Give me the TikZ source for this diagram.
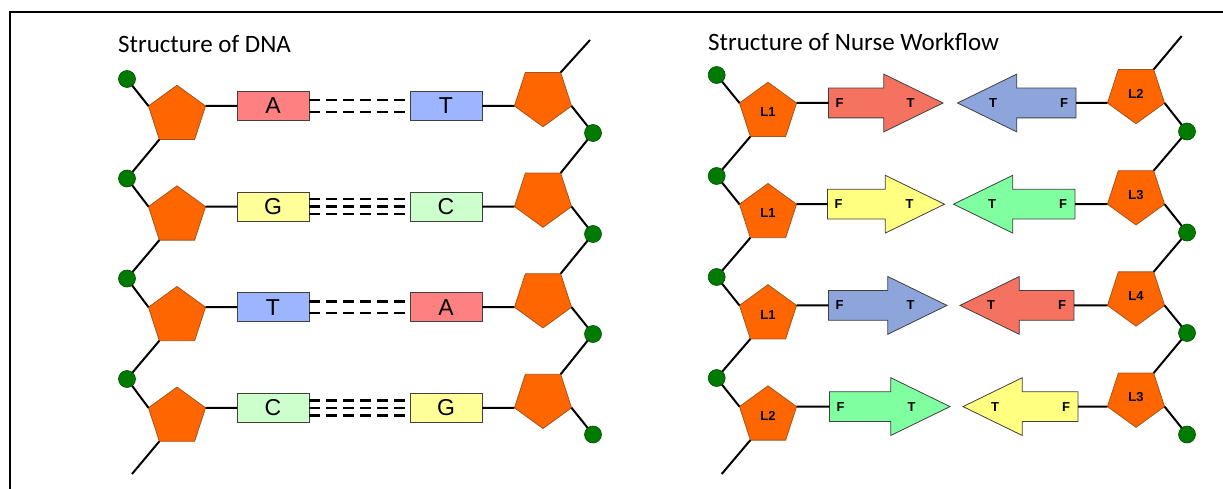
\documentclass[tikz,border=0pt]{standalone}
\usepackage{fontspec}
\usetikzlibrary{shapes.geometric,shapes.arrows}
\newfontfamily\titlefont{Carlito}
\newfontfamily\arialfont{Liberation Sans}

\definecolor{pentfill}{HTML}{FF6600}
\definecolor{pentedge}{HTML}{A4541C}
\definecolor{phosfill}{HTML}{007A00}
\definecolor{phosedge}{HTML}{004C00}
\definecolor{edgegray}{HTML}{404040}
\definecolor{cA}{HTML}{FF8080}
\definecolor{cT}{HTML}{9DB5FF}
\definecolor{cG}{HTML}{FFFF99}
\definecolor{cC}{HTML}{CCFFCC}
\definecolor{fRed}{HTML}{F4725F}
\definecolor{fBlue}{HTML}{8EA5DB}
\definecolor{fYellow}{HTML}{FFFF80}
\definecolor{fGreen}{HTML}{80FFA0}

\tikzset{
  conn/.style={line width=2pt, black},
  frameline/.style={line width=2pt, black},
  pentup/.style={regular polygon, regular polygon sides=5, minimum size=60pt,
    inner sep=0pt, outer sep=0pt, fill=pentfill, draw=pentedge, line width=0.8pt,
    font=\arialfont\bfseries\fontsize{13}{13}\selectfont},
  pentdown/.style={pentup, shape border rotate=180},
  phos/.style={circle, minimum size=17pt, inner sep=0pt, outer sep=0pt,
    fill=phosfill, draw=phosedge, line width=0.6pt},
  basebox/.style={rectangle, minimum width=72pt, minimum height=29pt,
    inner sep=0pt, outer sep=0pt, draw=edgegray, line width=1pt,
    font=\arialfont\fontsize{23}{23}\selectfont},
  hbond/.style={line width=2.4pt, black, dash pattern=on 11pt off 6pt},
  flowR/.style={single arrow, single arrow head extend=14pt, single arrow tip angle=52,
    inner xsep=0pt, inner ysep=14.5pt, outer sep=0pt, draw=edgegray, line width=0.8pt,
    anchor=tail},
  flowL/.style={flowR, shape border rotate=180},
  lab/.style={inner sep=0pt, font=\arialfont\bfseries\fontsize{13}{13}\selectfont},
  title/.style={inner sep=0pt, anchor=base west, font=\titlefont\fontsize{25}{25}\selectfont}
}

\begin{document}
\begin{tikzpicture}[x=1pt, y=-1pt]
\useasboundingbox (0,0) rectangle (1223,489);

% outer frame
\coordinate (frameTR) at (1223,12);
\coordinate (frameTL) at (10,12);
\coordinate (frameBL) at (10,489);
\draw[frameline] (frameTR) -- (frameTL) -- (frameBL);

% titles
\node[title] (dnatitle) at (118,53) {Structure of DNA};
\node[title] (nursetitle) at (708,51) {Structure of Nurse Workflow};

% ---------------- DNA ----------------
% sugars, bases and sugar-base bonds
\foreach \i/\y/\l/\lc/\r/\rc in {1/106/A/cA/T/cT, 2/206.6/G/cG/C/cC, 3/307.2/T/cT/A/cA, 4/407.8/C/cC/G/cG} {
  \node[pentup] (dl\i) at (177, \y+9.27) {};
  \node[pentdown] (dr\i) at (543, \y-9.27) {};
  \node[basebox, fill=\lc] (bl\i) at (273, \y) {\l};
  \node[basebox, fill=\rc] (br\i) at (446, \y) {\r};
  \draw[conn] (dl\i.corner 5) -- (bl\i.west);
  \draw[conn] (br\i.east) -- (dr\i.corner 5);
}
% hydrogen bonds: two for A-T, three for G-C
\foreach \i in {1,3} \foreach \o in {-5.8,5.8}
  \draw[hbond] ([yshift=\o pt]bl\i.east) -- ([yshift=\o pt]br\i.west);
\foreach \i in {2,4} \foreach \o in {-7.5,0,7.5}
  \draw[hbond] ([yshift=\o pt]bl\i.east) -- ([yshift=\o pt]br\i.west);

% phosphates
\foreach \i/\y in {1/79, 2/178.5, 3/278.5, 4/379}
  \node[phos] (pl\i) at (127, \y) {};
\foreach \i/\y in {1/133, 2/234, 3/334, 4/434.5}
  \node[phos] (pr\i) at (593, \y) {};
\coordinate (dlend) at (132,474);
\coordinate (drend) at (590,40);

% left backbone
\foreach \i in {1,...,4} \draw[conn] (pl\i) -- (dl\i.corner 2);
\foreach \i/\j in {1/2, 2/3, 3/4} \draw[conn] (dl\i.corner 3) -- (pl\j);
\draw[conn] (dl4.corner 3) -- (dlend);
% right backbone
\draw[conn] (drend) -- (dr1.corner 3);
\foreach \i in {1,...,4} \draw[conn] (dr\i.corner 2) -- (pr\i);
\foreach \i/\j in {1/2, 2/3, 3/4} \draw[conn] (pr\i) -- (dr\j.corner 3);

% ---------------- Nurse workflow ----------------
\foreach \i/\y/\ll/\rl in {1/103/L1/L2, 2/204.2/L1/L3, 3/305.4/L1/L4, 4/406.6/L2/L3} {
  \node[pentup] (nl\i) at (768, \y+9.27) {\ll};
  \node[pentdown] (nr\i) at (1136, \y-9.27) {\rl};
}

% hand-off arrows
\node[flowR, fill=fRed, minimum height=114.5pt] (ra1) at (828.5,103) {};
\node[flowL, fill=fBlue, minimum height=118.5pt] (la1) at (1076,103) {};
\node[flowR, fill=fYellow, minimum height=117pt] (ra2) at (827.5,204.2) {};
\node[flowL, fill=fGreen, minimum height=121.5pt] (la2) at (1075,204.2) {};
\node[flowR, fill=fBlue, minimum height=118.5pt] (ra3) at (828.5,305.4) {};
\node[flowL, fill=fRed, minimum height=114pt] (la3) at (1074,305.4) {};
\node[flowR, fill=fGreen, minimum height=120.5pt] (ra4) at (829.5,406.6) {};
\node[flowL, fill=fYellow, minimum height=115pt] (la4) at (1078,406.6) {};

\foreach \i in {1,...,4} {
  \node[lab] (raf\i) at ([xshift=11pt]ra\i.tail) {F};
  \node[lab] (rat\i) at ([xshift=82pt]ra\i.tail) {T};
  \node[lab] (laf\i) at ([xshift=-12pt]la\i.tail) {F};
  \node[lab] (lat\i) at ([xshift=-83pt]la\i.tail) {T};
  \draw[conn] (nl\i.corner 5) -- (ra\i.tail);
  \draw[conn] (la\i.tail) -- (nr\i.corner 5);
}

% phosphates
\foreach \i/\y in {1/75, 2/176, 3/277, 4/378}
  \node[phos] (ql\i) at (716.7, \y) {};
\foreach \i/\y in {1/131.5, 2/232.5, 3/333, 4/434.5}
  \node[phos] (qr\i) at (1187, \y) {};
\coordinate (nlend) at (721.7,474);
\coordinate (nrend) at (1181.7,36);

% left backbone
\foreach \i in {1,...,4} \draw[conn] (ql\i) -- (nl\i.corner 2);
\foreach \i/\j in {1/2, 2/3, 3/4} \draw[conn] (nl\i.corner 3) -- (ql\j);
\draw[conn] (nl4.corner 3) -- (nlend);
% right backbone
\draw[conn] (nrend) -- (nr1.corner 3);
\foreach \i in {1,...,4} \draw[conn] (nr\i.corner 2) -- (qr\i);
\foreach \i/\j in {1/2, 2/3, 3/4} \draw[conn] (qr\i) -- (nr\j.corner 3);

\end{tikzpicture}
\end{document}
